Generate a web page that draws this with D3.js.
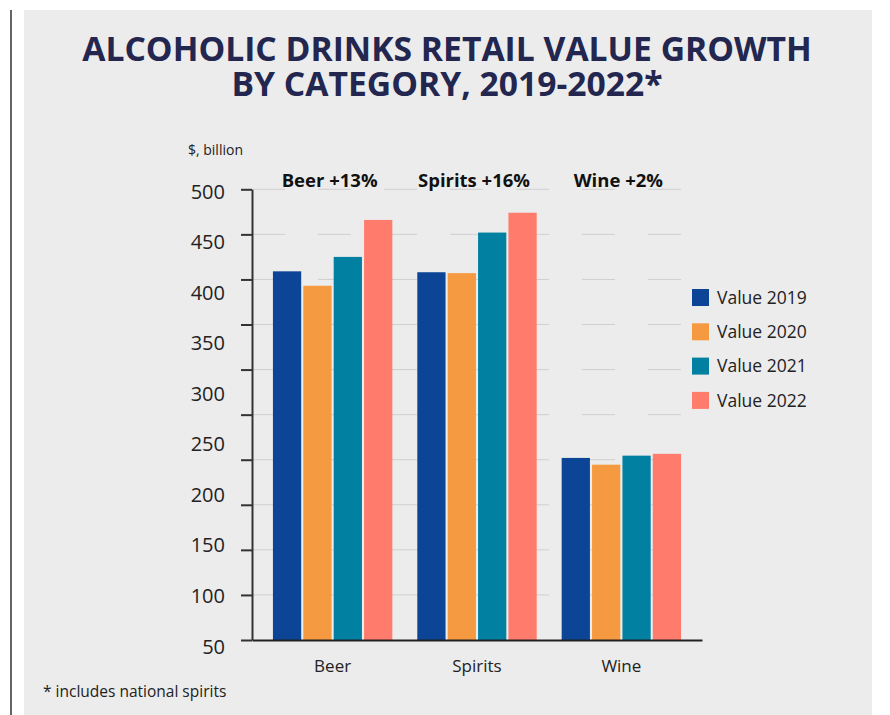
<!DOCTYPE html>
<html>
<head>
<meta charset="utf-8">
<script src="https://cdn.jsdelivr.net/npm/d3@7"></script>
<style>
  body { margin: 0; background: #fff; }
  svg text { font-family: "Open Sans", sans-serif; }
</style>
</head>
<body>
<div id="chart"></div>
<script>
//Size
var w = 890;
var h = 715;

//Data
var categories = ["Beer", "Spirits", "Wine"];
var growthLabels = ["Beer +13%", "Spirits +16%", "Wine +2%"];
var years = ["Value 2019", "Value 2020", "Value 2021", "Value 2022"];
var beerValues = [409, 393, 425, 466];
var spiritsValues = [408, 407, 452, 474];
var wineValues = [202, 194.5, 204.5, 206.5];
var tickLabels = [50, 100, 150, 200, 250, 300, 350, 400, 450, 500];
var titleLines = ["ALCOHOLIC DRINKS RETAIL VALUE GROWTH", "BY CATEGORY, 2019-2022*"];
var colors = ["#0c4595", "#f59a40", "#0180a1", "#ff7b6c"];

var seriesByCat = [beerValues, spiritsValues, wineValues];

//Svg
var svg = d3.select("#chart")
  .append("svg")
  .attr("width", w)
  .attr("height", h);

//Background panel and left rule
svg.append("rect")
  .attr("x", 24).attr("y", 10)
  .attr("width", 848).attr("height", h - 10)
  .attr("fill", "#ececec");

svg.append("line")
  .attr("x1", 11).attr("x2", 11)
  .attr("y1", 10).attr("y2", h)
  .attr("stroke", "#666")
  .attr("stroke-width", 2);

//Title
svg.append("g")
  .attr("transform", "translate(447,0) scale(0.99,1)")
  .selectAll("text")
  .data(titleLines)
  .enter()
  .append("text")
  .attr("x", 0)
  .attr("y", function(d, i) { return 61 + i * 35; })
  .attr("text-anchor", "middle")
  .attr("fill", "#23264f")
  .style("font-weight", 700)
  .style("font-size", "34px")
  .text(function(d) { return d; });

//Scales
var x0 = d3.scaleBand()
  .domain(categories)
  .range([252, 702])
  .paddingInner(0.173)
  .paddingOuter(0.145);

var x1 = d3.scaleBand()
  .domain(years)
  .range([0, x0.bandwidth()])
  .paddingInner(0.07);

var y = d3.scaleLinear()
  .domain([0, 500])
  .range([640, 189.3]);

//Labels are spread on their own scale, as in the original
var yLab = d3.scaleLinear()
  .domain([50, 500])
  .range([646.7, 191.7]);

//Gridlines
svg.append("g")
  .attr("class", "grid")
  .selectAll("line")
  .data(d3.range(50, 501, 50))
  .enter()
  .append("line")
  .attr("x1", 252)
  .attr("x2", 702)
  .attr("y1", function(d) { return y(d); })
  .attr("y2", function(d) { return y(d); })
  .attr("stroke", "#cfcfcf")
  .attr("stroke-width", 1)
  .attr("stroke-dasharray", "33,33");

//Bars
var groups = svg.append("g")
  .selectAll("g")
  .data(categories)
  .enter()
  .append("g")
  .attr("transform", function(d) { return "translate(" + x0(d) + ",0)"; });

groups.selectAll("rect")
  .data(function(d, i) { return seriesByCat[i].map(function(v, j) { return {year: years[j], value: v, c: j}; }); })
  .enter()
  .append("rect")
  .attr("x", function(d) { return x1(d.year); })
  .attr("y", function(d) { return y(d.value); })
  .attr("width", x1.bandwidth())
  .attr("height", function(d) { return y(0) - y(d.value); })
  .attr("fill", function(d) { return colors[d.c]; });

//Group growth labels
svg.append("g")
  .selectAll("text")
  .data(categories)
  .enter()
  .append("text")
  .attr("x", function(d) { return x0(d) + x0.bandwidth() / 2 - 3; })
  .attr("y", 187)
  .attr("text-anchor", "middle")
  .attr("fill", "#111")
  .style("font-weight", 700)
  .style("font-size", "18.5px")
  .text(function(d, i) { return growthLabels[i]; });

//Y axis (ticks)
var yAxis = d3.axisLeft(y)
  .tickValues(d3.range(0, 501, 50))
  .tickSize(11)
  .tickSizeOuter(0)
  .tickFormat("");

var yg = svg.append("g")
  .attr("transform", "translate(252,0)")
  .call(yAxis);
yg.selectAll("path, line").attr("stroke", "#333").attr("stroke-width", 2);

//Y axis (labels)
var yLabAxis = d3.axisLeft(yLab)
  .tickValues(tickLabels)
  .tickSize(0)
  .tickPadding(27);

var ylg = svg.append("g")
  .attr("transform", "translate(252,0)")
  .call(yLabAxis);
ylg.select(".domain").remove();
ylg.selectAll("text")
  .attr("fill", "#222")
  .style("font-family", "'Open Sans', sans-serif")
  .style("font-size", "20px");

//X axis
var xAxis = d3.axisBottom(x0)
  .tickSize(0)
  .tickSizeOuter(0)
  .tickPadding(20);

var xg = svg.append("g")
  .attr("transform", "translate(0,640)")
  .call(xAxis);
xg.select(".domain").attr("stroke", "#222").attr("stroke-width", 2);
xg.selectAll("text")
  .attr("fill", "#222")
  .style("font-family", "'Open Sans', sans-serif")
  .style("font-size", "17px");

//Unit label
svg.append("text")
  .attr("x", 188)
  .attr("y", 155)
  .attr("fill", "#222")
  .style("font-size", "14px")
  .text("$, billion");

//Legend
var legend = svg.append("g")
  .selectAll("g")
  .data(years)
  .enter()
  .append("g")
  .attr("transform", function(d, i) { return "translate(692," + (289 + i * 34.3) + ")"; });

legend.append("rect")
  .attr("width", 17)
  .attr("height", 17)
  .attr("fill", function(d, i) { return colors[i]; });

legend.append("text")
  .attr("x", 25)
  .attr("y", 8.5)
  .attr("dy", "0.35em")
  .attr("fill", "#222")
  .style("font-size", "17.5px")
  .text(function(d) { return d; });

//Footnote
svg.append("text")
  .attr("x", 43)
  .attr("y", 697)
  .attr("fill", "#222")
  .style("font-size", "15.5px")
  .text("* includes national spirits");
</script>
</body>
</html>
